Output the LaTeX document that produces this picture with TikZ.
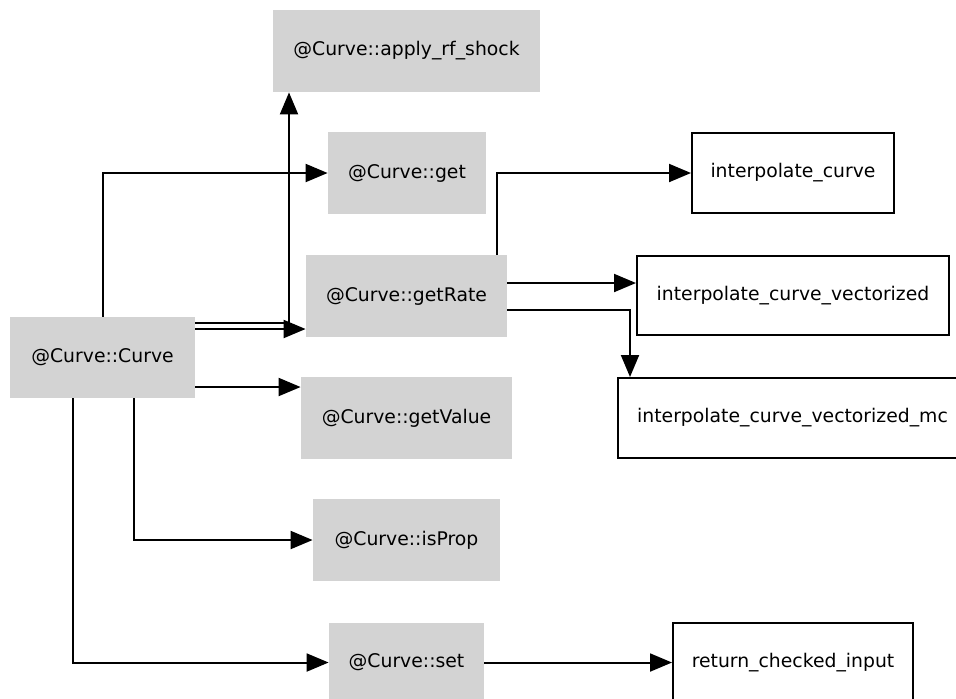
\documentclass[tikz,border=0pt]{standalone}
\usepackage{fontspec}
\setmainfont{DejaVu Sans}
\usepackage{xcolor}
\usepackage{tikz}
\usetikzlibrary{arrows.meta}
\definecolor{fngray}{RGB}{211,211,211}
\tikzstyle{method} = [rectangle, fill=fngray, text centered, inner sep=0pt, font=\fontsize{9.4pt}{11pt}\selectfont]
\tikzstyle{func} = [rectangle, draw=black, line width=1pt, text centered, inner sep=0pt, font=\fontsize{9.4pt}{11pt}\selectfont]
\tikzstyle{arrow} = [line width=1pt, -{Triangle[length=11pt,width=9pt]}]

\begin{document}
\begin{tikzpicture}[x=0.5pt, y=-0.5pt]
   \useasboundingbox (0,0) rectangle (956,698);
   \node (curve) [method, minimum width=92.5pt, minimum height=40.5pt] at (102.5,357.5) {@Curve::Curve};
   \node (shock) [method, minimum width=133.5pt, minimum height=41pt] at (406.5,51) {@Curve::apply\_rf\_shock};
   \node (get) [method, minimum width=79pt, minimum height=41pt] at (407,173) {@Curve::get};
   \node (getrate) [method, minimum width=100.5pt, minimum height=41pt] at (406.5,296) {@Curve::getRate};
   \node (getvalue) [method, minimum width=105.5pt, minimum height=41pt] at (406.5,418) {@Curve::getValue};
   \node (isprop) [method, minimum width=93.5pt, minimum height=41pt] at (406.5,540) {@Curve::isProp};
   \node (set) [method, minimum width=77.5pt, minimum height=40pt] at (406.5,662.5) {@Curve::set};
   \node (interp) [func, minimum width=101pt, minimum height=40pt] at (793,173) {interpolate\_curve};
   \node (vect) [func, minimum width=156pt, minimum height=39.5pt] at (793,295.5) {interpolate\_curve\_vectorized};
   \node (vectmc) [func, minimum width=174.5pt, minimum height=40pt] at (792.5,418) {interpolate\_curve\_vectorized\_mc};
   \node (checked) [func, minimum width=120pt, minimum height=40pt] at (793,662.5) {return\_checked\_input};
   % calls made by the constructor
   \draw [arrow] ([yshift=17.25pt]curve.east) -| ([xshift=-58.75pt]shock.south);
   \draw [arrow] ([yshift=14.25pt]curve.east) -- ([yshift=-16.5pt]getrate.west);
   \draw [arrow] (curve.north) |- (get.west);
   \draw [arrow] ([yshift=-14.75pt]curve.east) -- ([yshift=15.5pt]getvalue.west);
   \draw [arrow] ([xshift=15.75pt]curve.south) |- (isprop.west);
   \draw [arrow] ([xshift=-14.75pt]curve.south) |- (set.west);
   % calls made by getRate and set
   \draw [arrow] ([xshift=45.25pt]getrate.north) |- (interp.west);
   \draw [arrow] ([yshift=6.5pt]getrate.east) -- ([yshift=6.25pt]vect.west);
   \draw [arrow] ([yshift=-7pt]getrate.east) -| ([xshift=-81.25pt]vectmc.north);
   \draw [arrow] (set) -- (checked);
\end{tikzpicture}
\end{document}
